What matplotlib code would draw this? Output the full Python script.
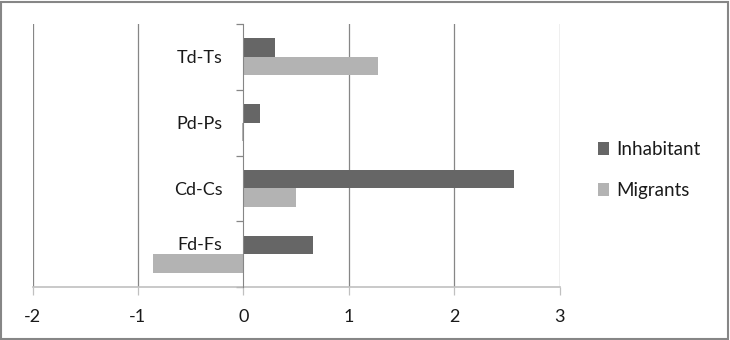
import numpy as np
import matplotlib
matplotlib.use('Agg')
import matplotlib.pyplot as plt
import matplotlib.transforms as mtransforms
from matplotlib.patches import Rectangle

# data, bottom category first
categories = ['Fd-Fs', 'Cd-Cs', 'Pd-Ps', 'Td-Ts']
inhabitant = [0.66, 2.57, 0.16, 0.30]
migrants = [-0.86, 0.50, -0.01, 1.28]
xticks = [-2, -1, 0, 1, 2, 3]

plt.rcParams['font.family'] = ['Lato', 'DejaVu Sans']

fig = plt.figure(figsize=(7.3, 3.4), dpi=100)
ax = fig.add_axes([32.5/730, 1-287/340, (559.5-32.5)/730, (287-24)/340])

y = np.arange(len(categories))
h = 0.28
ax.barh(y + h/2, inhabitant, height=h, color='#666666', label='Inhabitant', zorder=3)
ax.barh(y - h/2, migrants, height=h, color='#b3b3b3', label='Migrants', zorder=3)

ax.set_xlim(-2, 3)
ax.set_ylim(-0.5, len(categories) - 0.5)
ax.set_xticks(xticks)
ax.set_xticklabels([str(t) for t in xticks], fontsize=13, color='#1a1a1a')
ax.tick_params(axis='x', length=6, width=0.9, color='#c0c0c0', pad=10)

# category axis sits on x=0, labels between boundary ticks
ax.spines['left'].set_position(('data', 0))
ax.spines['left'].set_color('#868686')
ax.spines['left'].set_zorder(4)
ax.set_yticks(y)
ax.set_yticklabels(categories, fontsize=13, color='#1a1a1a')
ax.set_yticks(np.arange(len(categories) + 1) - 0.5, minor=True)
ax.tick_params(axis='y', which='major', length=0, pad=15)
ax.tick_params(axis='y', which='minor', length=5, width=0.9, color='#868686')

# the bottom label is pushed up clear of the negative bar, as in the original
lab = ax.get_yticklabels()[0]
lab.set_transform(lab.get_transform() + mtransforms.ScaledTranslation(0, 11/100, fig.dpi_scale_trans))

ax.spines['top'].set_visible(False)
ax.spines['right'].set_visible(False)
ax.spines['bottom'].set_color('#c0c0c0')
ax.spines['bottom'].set_linewidth(1.2)

for t in xticks:
    if t != 0:
        ax.axvline(t, color='#868686', lw=0.9, zorder=1)

leg = ax.legend(loc='center left', bbox_to_anchor=(598/730, 1-170/340),
                bbox_transform=fig.transFigure, frameon=False, fontsize=13.5,
                handlelength=0.6, handleheight=0.7, handletextpad=0.35,
                labelspacing=1.25, borderaxespad=0, borderpad=0)
for txt in leg.get_texts():
    txt.set_color('#1a1a1a')

fig.patches.append(Rectangle((0.002, 0.004), 0.995, 0.991, transform=fig.transFigure,
                             fill=False, edgecolor='#868686', lw=1.5))

fig.savefig('out.png', dpi=100)
